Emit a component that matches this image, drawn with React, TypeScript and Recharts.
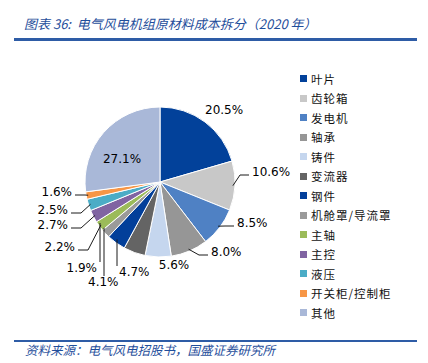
import { Cell, Legend, Pie, PieChart } from "recharts";

const CATEGORIES = [
  "叶片",
  "齿轮箱",
  "发电机",
  "轴承",
  "铸件",
  "变流器",
  "钢件",
  "机舱罩/导流罩",
  "主轴",
  "主控",
  "液压",
  "开关柜/控制柜",
  "其他",
];

const SHARES = [20.5, 10.6, 8.5, 8.0, 5.6, 4.7, 4.1, 1.9, 2.2, 2.7, 2.5, 1.6, 27.1];

const COLORS = [
  "#02419A",
  "#C8C8C8",
  "#4F81C4",
  "#969696",
  "#C5D6EE",
  "#646464",
  "#023F9A",
  "#9A9A9A",
  "#9BBB59",
  "#8064A2",
  "#4BACC6",
  "#F79646",
  "#A9B8D8",
];

// label placement relative to pie centre (Excel-style leader lines)
type LabelSpot = { dx: number; dy: number; anchor: "start" | "end" | "middle"; leader: "none" | "h" | "v"; lx?: number };
const LABEL_LAYOUT: LabelSpot[] = [
  { dx: 45, dy: -72, anchor: "start", leader: "none" },
  { dx: 92, dy: -10, anchor: "start", leader: "h" },
  { dx: 77, dy: 41, anchor: "start", leader: "h" },
  { dx: 51, dy: 70, anchor: "start", leader: "h" },
  { dx: 14, dy: 83, anchor: "middle", leader: "none" },
  { dx: -41, dy: 90, anchor: "start", leader: "v", lx: -2 },
  { dx: -72, dy: 100, anchor: "start", leader: "v", lx: 16 },
  { dx: -63, dy: 86, anchor: "end", leader: "v", lx: 3 },
  { dx: -85, dy: 65, anchor: "end", leader: "h" },
  { dx: -92, dy: 43, anchor: "end", leader: "h" },
  { dx: -92, dy: 28, anchor: "end", leader: "h" },
  { dx: -88, dy: 10, anchor: "end", leader: "h" },
  { dx: -38, dy: -23, anchor: "middle", leader: "none" },
];

const data = CATEGORIES.map((name, i) => ({ name, value: SHARES[i] }));

const RAD = Math.PI / 180;
const PIE_CX = 155;
const PIE_CY = 177;
const PIE_R = 75;

function renderLabel(props: any) {
  const { cx, cy, midAngle, outerRadius, index, value } = props;
  const spot = LABEL_LAYOUT[index];
  const tx = cx + spot.dx;
  const ty = cy + spot.dy;
  const ex = cx + (outerRadius - 2) * Math.cos(-midAngle * RAD);
  const ey = cy + (outerRadius - 2) * Math.sin(-midAngle * RAD);
  let points = "";
  if (spot.leader === "h") {
    const right = spot.anchor === "start";
    const endX = right ? tx - 3 : tx + 3;
    const elbowX = right ? endX - 9 : endX + 10;
    points = `${ex},${ey} ${elbowX},${ty + 3} ${endX},${ty + 3}`;
  } else if (spot.leader === "v") {
    const lx = tx + (spot.lx ?? 0);
    const ly = ty - 6;
    const d = lx - cx;
    const cyEdge = cy + Math.sqrt(Math.max(0, outerRadius * outerRadius - d * d)) - 4;
    points = `${lx},${ly} ${lx},${cyEdge}`;
  }
  return (
    <g key={`lbl-${index}`}>
      {points && <polyline points={points} fill="none" stroke="#1a1a1a" strokeWidth={1} />}
      <text
        x={tx}
        y={ty}
        textAnchor={spot.anchor}
        dominantBaseline="central"
        fill="#000"
        fontSize={12}
        fontFamily="DejaVu Sans, Verdana, sans-serif"
      >
        {`${Number(value).toFixed(1)}%`}
      </text>
    </g>
  );
}

function LegendList() {
  return (
    <div style={{ fontFamily: "Noto Sans CJK SC, sans-serif", fontSize: 11.5, color: "#111" }}>
      {CATEGORIES.map((name, i) => (
        <div key={name} style={{ display: "flex", alignItems: "center", height: 19.5 }}>
          <span
            style={{ display: "inline-block", width: 7, height: 7, background: COLORS[i], marginRight: 4 }}
          />
          <span style={{ letterSpacing: 1 }}>{name}</span>
        </div>
      ))}
    </div>
  );
}

export default function App() {
  return (
    <div style={{ position: "absolute", left: 0, top: 0, width: 428, height: 363, background: "#fff" }}>
      <div
        style={{
          position: "absolute",
          left: 24,
          top: 14,
          fontSize: 13,
          fontStyle: "italic",
          color: "#1F4E9B",
          fontFamily: "Noto Sans CJK SC, sans-serif",
          whiteSpace: "nowrap",
          lineHeight: "20px",
        }}
      >
        图表 36:&nbsp; 电气风电机组原材料成本拆分（2020 年）
      </div>
      <div style={{ position: "absolute", left: 14, top: 38, width: 403, height: 2.5, background: "#2E5CA6" }} />
      <PieChart width={428} height={363} style={{ position: "absolute", left: 0, top: 0 }}>
        <Pie
          data={data}
          dataKey="value"
          nameKey="name"
          cx={PIE_CX}
          cy={PIE_CY}
          outerRadius={PIE_R}
          startAngle={90}
          endAngle={-270}
          stroke="#fff"
          strokeWidth={1}
          label={renderLabel}
          labelLine={false}
          isAnimationActive={false}
        >
          {data.map((_, index) => (
            <Cell fill={COLORS[index % COLORS.length]} key={`cell-${index}`} />
          ))}
        </Pie>
        <Legend
          layout="vertical"
          content={() => <LegendList />}
          wrapperStyle={{ position: "absolute", left: 300, top: 69, width: 128 }}
        />
      </PieChart>
      <div style={{ position: "absolute", left: 14, top: 340, width: 403, height: 2, background: "#2E5CA6" }} />
      <div
        style={{
          position: "absolute",
          left: 25,
          top: 341,
          fontSize: 12.5,
          fontStyle: "italic",
          color: "#1F4E9B",
          fontFamily: "Noto Sans CJK SC, sans-serif",
          whiteSpace: "nowrap",
          lineHeight: "18px",
        }}
      >
        资料来源：电气风电招股书，国盛证券研究所
      </div>
    </div>
  );
}
